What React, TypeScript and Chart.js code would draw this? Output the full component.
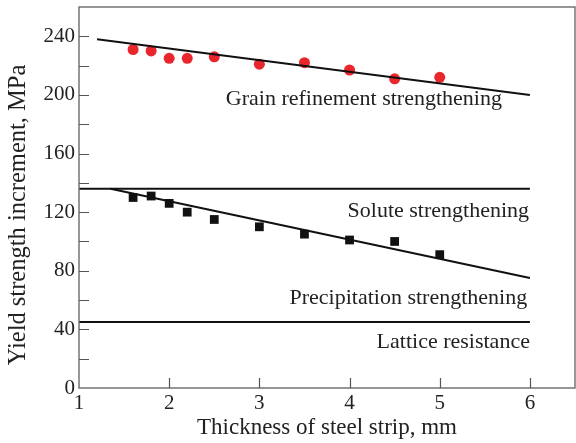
import { useEffect, useRef } from 'react';
import { Chart, registerables } from 'chart.js';
Chart.register(...registerables);

const thickness = [1.6, 1.8, 2.0, 2.2, 2.5, 3.0, 3.5, 4.0, 4.5, 5.0];
const grainPoints = [231, 230, 225, 225, 226, 221, 222, 217, 211, 212];
const precipPoints = [130, 131, 126, 120, 115, 110, 105, 101, 100, 91];
const grainFitX = [1.2, 6];
const grainFitY = [238, 200];
const soluteX = [1, 6];
const soluteY = [136, 136];
const precipFitX = [1.35, 6];
const precipFitY = [136, 75];
const latticeX = [1, 6];
const latticeY = [45, 45];
const xTickValues = [1, 2, 3, 4, 5, 6];
const yLabelValues = [0, 40, 80, 120, 160, 200, 240];
const yMinorValues = [20, 40, 60, 80, 100, 120, 140, 160, 180, 200, 220, 240];
const annotations = [
  { text: 'Grain refinement strengthening', x: 5.69, y: 197 },
  { text: 'Solute strengthening', x: 5.99, y: 120.5 },
  { text: 'Precipitation strengthening', x: 5.97, y: 61.5 },
  { text: 'Lattice resistance', x: 6.0, y: 31.5 },
];
const xTitle = 'Thickness of steel strip, mm';
const yTitle = 'Yield strength increment, MPa';

const FONT = '"Liberation Serif", "Times New Roman", serif';

const pts = (xs: number[], ys: number[]) => xs.map((x, i) => ({ x, y: ys[i] }));

export default function App() {
  const ref = useRef<HTMLCanvasElement | null>(null);
  useEffect(() => {
    if (!ref.current) return;
    const overlay = {
      id: 'overlay',
      afterDraw(chart: any) {
        const { ctx, chartArea: a, scales } = chart;
        const xs = scales.x;
        const ys = scales.y;
        ctx.save();
        ctx.strokeStyle = '#6a6a6a';
        ctx.lineWidth = 1.4;
        ctx.strokeRect(a.left, a.top, a.right - a.left, a.bottom - a.top);
        ctx.strokeStyle = '#555';
        ctx.lineWidth = 1.2;
        ctx.beginPath();
        for (const v of yMinorValues) {
          const py = Math.round(ys.getPixelForValue(v)) + 0.5;
          ctx.moveTo(a.left, py);
          ctx.lineTo(a.left + 10, py);
        }
        for (const v of xTickValues.slice(1)) {
          const px = Math.round(xs.getPixelForValue(v)) + 0.5;
          ctx.moveTo(px, a.bottom);
          ctx.lineTo(px, a.bottom - 10);
        }
        ctx.stroke();
        ctx.fillStyle = '#222';
        ctx.font = `21px ${FONT}`;
        ctx.textAlign = 'center';
        ctx.textBaseline = 'top';
        for (const v of xTickValues) {
          ctx.fillText(String(v), xs.getPixelForValue(v), a.bottom + 5);
        }
        ctx.font = `22px ${FONT}`;
        ctx.textAlign = 'right';
        ctx.textBaseline = 'middle';
        for (const an of annotations) {
          ctx.fillText(an.text, xs.getPixelForValue(an.x), ys.getPixelForValue(an.y));
        }
        ctx.font = `23px ${FONT}`;
        ctx.textAlign = 'center';
        ctx.fillText(xTitle, (a.left + a.right) / 2, 428);
        ctx.font = `24.5px ${FONT}`;
        ctx.translate(19, 215);
        ctx.rotate(-Math.PI / 2);
        ctx.fillText(yTitle, 0, 0);
        ctx.restore();
      },
    };
    const chart = new Chart(ref.current, {
      type: 'scatter',
      data: {
        datasets: [
          { data: pts(grainFitX, grainFitY), showLine: true, borderColor: '#111', borderWidth: 2, pointRadius: 0 },
          { data: pts(soluteX, soluteY), showLine: true, borderColor: '#111', borderWidth: 2, pointRadius: 0 },
          { data: pts(precipFitX, precipFitY), showLine: true, borderColor: '#111', borderWidth: 2, pointRadius: 0 },
          { data: pts(latticeX, latticeY), showLine: true, borderColor: '#111', borderWidth: 2, pointRadius: 0 },
          { data: pts(thickness, grainPoints), pointStyle: 'circle', pointRadius: 5.5, backgroundColor: '#e8262b', borderColor: '#e8262b', borderWidth: 0 },
          { data: pts(thickness, precipPoints), pointStyle: 'rect', pointRadius: 6.2, backgroundColor: '#111', borderColor: '#111', borderWidth: 0 },
        ],
      },
      options: {
        responsive: false,
        animation: false,
        layout: { autoPadding: false, padding: { top: 7, right: 1, left: 0, bottom: 0 } },
        plugins: { legend: { display: false }, tooltip: { enabled: false } },
        scales: {
          x: {
            type: 'linear',
            min: 1,
            max: 6.5,
            afterBuildTicks: (s: any) => { s.ticks = xTickValues.map((v) => ({ value: v })); },
            afterFit: (s: any) => { s.height = 55; s.paddingLeft = 0; s.paddingRight = 0; },
            grid: { display: false, drawTicks: false },
            border: { display: false },
            ticks: { display: false },
          },
          y: {
            type: 'linear',
            min: 0,
            max: 260,
            afterBuildTicks: (s: any) => { s.ticks = yLabelValues.map((v) => ({ value: v })); },
            afterFit: (s: any) => { s.width = 79; s.paddingTop = 0; s.paddingBottom = 0; },
            grid: { display: false, drawTicks: false },
            border: { display: false },
            ticks: { color: '#222', font: { family: FONT, size: 21 }, padding: 4, autoSkip: false },
          },
        },
      },
      plugins: [overlay],
    });
    return () => chart.destroy();
  }, []);
  return (
    <div style={{ position: 'fixed', left: 0, top: 0, width: 576, height: 443, background: '#fff' }}>
      <canvas ref={ref} width={576} height={443} />
    </div>
  );
}
